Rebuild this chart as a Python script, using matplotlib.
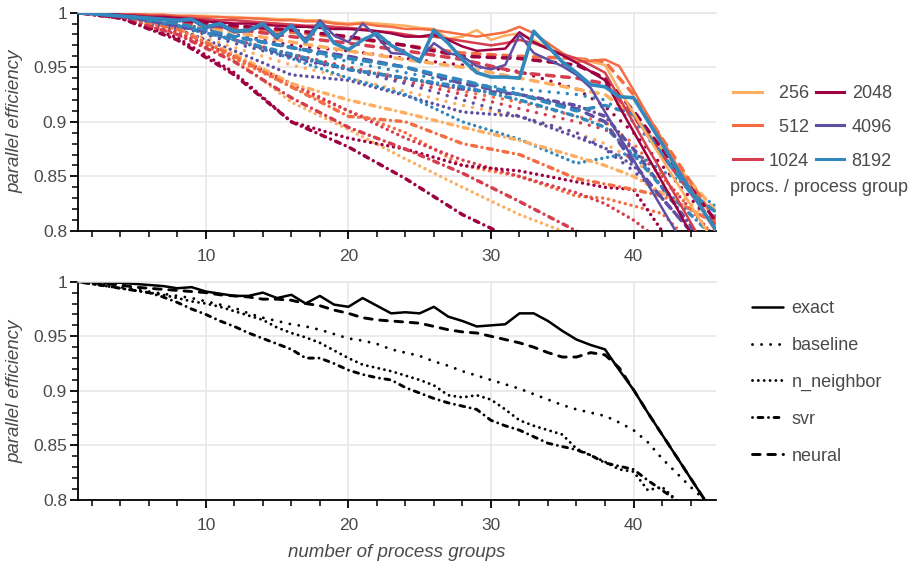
import numpy as np
import matplotlib
matplotlib.use('Agg')
import matplotlib.pyplot as plt
from matplotlib.lines import Line2D
from matplotlib.ticker import MultipleLocator, FuncFormatter

plt.rcParams['font.family'] = ['Liberation Sans', 'DejaVu Sans']
plt.rcParams['lines.scale_dashes'] = False

# ---- data -----------------------------------------------------------
groups = list(range(1, 47))                       # every process group count
coarse = [1, 4, 8, 12, 16, 20, 24, 28, 32, 36, 38, 40, 42, 44, 46]

sizes = ['256', '512', '1024', '2048', '4096', '8192']
size_colors = ['#fdae61', '#f46d43', '#d53e4f', '#9e0142', '#5e4fa2', '#3288bd']

# top panel: exact (measured) efficiency per group size, x = groups
top_exact = {
    '256': [1.0, 1.0, 0.999, 0.999, 0.999, 0.998, 0.998, 0.997, 0.997, 0.997, 0.996, 0.996, 0.995, 0.995,
            0.994, 0.994, 0.993, 0.993, 0.991, 0.990, 0.991, 0.990, 0.989, 0.988, 0.986, 0.985, 0.976, 0.978,
            0.984, 0.975, 0.979, 0.981, 0.975, 0.967, 0.962, 0.958, 0.955, 0.952, 0.929, 0.908, 0.887, 0.866,
            0.845, 0.824, 0.803, 0.782],
    '512': [1.0, 1.0, 0.999, 0.999, 0.999, 0.998, 0.998, 0.997, 0.997, 0.996, 0.996, 0.995, 0.995, 0.994,
            0.993, 0.993, 0.992, 0.992, 0.990, 0.989, 0.990, 0.988, 0.987, 0.985, 0.985, 0.984, 0.982, 0.980,
            0.978, 0.980, 0.982, 0.987, 0.981, 0.972, 0.963, 0.955, 0.956, 0.957, 0.951, 0.929, 0.906, 0.884,
            0.861, 0.839, 0.816, 0.794],
    '1024': [1.0, 0.999, 0.999, 0.998, 0.998, 0.997, 0.997, 0.996, 0.995, 0.994, 0.993, 0.993, 0.992, 0.991,
             0.990, 0.989, 0.988, 0.988, 0.987, 0.986, 0.985, 0.983, 0.982, 0.980, 0.978, 0.978, 0.976, 0.974,
             0.972, 0.970, 0.972, 0.975, 0.972, 0.967, 0.962, 0.958, 0.952, 0.945, 0.922, 0.899, 0.876, 0.854,
             0.831, 0.808, 0.785, 0.762],
    '2048': [1.0, 0.999, 0.999, 0.998, 0.997, 0.996, 0.996, 0.995, 0.994, 0.992, 0.991, 0.990, 0.990, 0.989,
             0.988, 0.987, 0.987, 0.986, 0.985, 0.985, 0.984, 0.983, 0.981, 0.978, 0.978, 0.980, 0.975, 0.969,
             0.965, 0.966, 0.967, 0.982, 0.973, 0.967, 0.961, 0.954, 0.946, 0.938, 0.914, 0.891, 0.868, 0.845,
             0.822, 0.798, 0.775, 0.752],
    '4096': [1.0, 0.999, 0.998, 0.997, 0.996, 0.995, 0.994, 0.992, 0.993, 0.986, 0.988, 0.982, 0.983, 0.988,
             0.976, 0.989, 0.975, 0.993, 0.979, 0.973, 0.990, 0.978, 0.963, 0.962, 0.957, 0.972, 0.963, 0.960,
             0.951, 0.948, 0.952, 0.980, 0.963, 0.957, 0.951, 0.943, 0.931, 0.909, 0.887, 0.865, 0.843, 0.821,
             0.799, 0.777, 0.755, 0.733],
    '8192': [1.0, 0.999, 0.998, 0.997, 0.996, 0.995, 0.994, 0.993, 0.994, 0.987, 0.990, 0.983, 0.984, 0.990,
             0.978, 0.988, 0.973, 0.990, 0.972, 0.966, 0.975, 0.981, 0.970, 0.963, 0.955, 0.984, 0.972, 0.957,
             0.945, 0.941, 0.941, 0.940, 0.983, 0.969, 0.955, 0.945, 0.934, 0.932, 0.923, 0.922, 0.901, 0.880,
             0.858, 0.837, 0.816, 0.797],
}

# top panel: predictions per group size, x = coarse
top_neural = {
    '256': [1.0, 0.997, 0.990, 0.982, 0.973, 0.965, 0.957, 0.950, 0.940, 0.930, 0.925, 0.905, 0.875, 0.845, 0.815],
    '512': [1.0, 0.998, 0.993, 0.987, 0.982, 0.977, 0.970, 0.963, 0.960, 0.958, 0.955, 0.925, 0.885, 0.845, 0.805],
    '1024': [1.0, 0.998, 0.992, 0.985, 0.978, 0.972, 0.965, 0.957, 0.945, 0.940, 0.935, 0.905, 0.870, 0.835, 0.800],
    '2048': [1.0, 0.998, 0.993, 0.988, 0.984, 0.978, 0.970, 0.960, 0.958, 0.952, 0.940, 0.910, 0.875, 0.840, 0.805],
    '4096': [1.0, 0.997, 0.988, 0.978, 0.968, 0.960, 0.950, 0.935, 0.925, 0.912, 0.900, 0.862, 0.830, 0.800, 0.770],
    '8192': [1.0, 0.998, 0.990, 0.978, 0.968, 0.958, 0.950, 0.938, 0.925, 0.910, 0.915, 0.907, 0.870, 0.835, 0.815],
}
top_baseline = {
    '256': [1.0, 0.996, 0.985, 0.968, 0.952, 0.940, 0.928, 0.915, 0.905, 0.890, 0.880, 0.865, 0.845, 0.825, 0.805],
    '512': [1.0, 0.997, 0.988, 0.975, 0.962, 0.950, 0.940, 0.928, 0.918, 0.905, 0.900, 0.880, 0.850, 0.820, 0.790],
    '1024': [1.0, 0.996, 0.987, 0.975, 0.962, 0.950, 0.937, 0.925, 0.912, 0.900, 0.893, 0.875, 0.850, 0.820, 0.790],
    '2048': [1.0, 0.998, 0.990, 0.980, 0.970, 0.965, 0.958, 0.952, 0.946, 0.930, 0.914, 0.890, 0.860, 0.830, 0.800],
    '4096': [1.0, 0.997, 0.988, 0.972, 0.958, 0.948, 0.935, 0.920, 0.905, 0.890, 0.875, 0.855, 0.830, 0.800, 0.775],
    '8192': [1.0, 0.998, 0.990, 0.980, 0.968, 0.955, 0.945, 0.935, 0.930, 0.925, 0.920, 0.900, 0.870, 0.840, 0.810],
}
top_nneighbor = {
    '256': [1.0, 0.995, 0.983, 0.958, 0.918, 0.893, 0.866, 0.840, 0.815, 0.795, 0.785, 0.775, 0.765, 0.755, 0.745],
    '512': [1.0, 0.995, 0.980, 0.958, 0.932, 0.910, 0.890, 0.860, 0.850, 0.832, 0.830, 0.823, 0.816, 0.790, 0.770],
    '1024': [1.0, 0.995, 0.982, 0.960, 0.935, 0.910, 0.885, 0.865, 0.850, 0.835, 0.825, 0.810, 0.790, 0.770, 0.750],
    '2048': [1.0, 0.995, 0.977, 0.945, 0.900, 0.885, 0.875, 0.860, 0.855, 0.845, 0.840, 0.838, 0.800, 0.770, 0.740],
    '4096': [1.0, 0.996, 0.985, 0.965, 0.943, 0.938, 0.924, 0.909, 0.905, 0.886, 0.876, 0.860, 0.830, 0.800, 0.770],
    '8192': [1.0, 0.997, 0.988, 0.975, 0.958, 0.940, 0.925, 0.900, 0.884, 0.862, 0.867, 0.872, 0.855, 0.840, 0.820],
}
top_svr = {
    '256': [1.0, 0.996, 0.985, 0.962, 0.935, 0.920, 0.908, 0.895, 0.883, 0.868, 0.860, 0.850, 0.835, 0.820, 0.805],
    '512': [1.0, 0.996, 0.985, 0.960, 0.932, 0.905, 0.900, 0.880, 0.870, 0.848, 0.843, 0.838, 0.832, 0.820, 0.805],
    '1024': [1.0, 0.995, 0.980, 0.955, 0.922, 0.895, 0.875, 0.853, 0.827, 0.800, 0.790, 0.780, 0.770, 0.760, 0.750],
    '2048': [1.0, 0.995, 0.975, 0.943, 0.900, 0.877, 0.848, 0.815, 0.790, 0.770, 0.760, 0.750, 0.740, 0.730, 0.720],
    '4096': [1.0, 0.997, 0.988, 0.975, 0.960, 0.948, 0.940, 0.930, 0.925, 0.915, 0.905, 0.875, 0.840, 0.805, 0.770],
    '8192': [1.0, 0.997, 0.988, 0.975, 0.962, 0.948, 0.940, 0.932, 0.920, 0.905, 0.895, 0.870, 0.840, 0.815, 0.790],
}

# bottom panel: averaged over group sizes, x = groups
avg_exact = [1.0, 1.0, 0.999, 0.999, 0.998, 0.997, 0.996, 0.994, 0.995, 0.991, 0.989, 0.987, 0.987, 0.990,
             0.985, 0.988, 0.980, 0.987, 0.979, 0.977, 0.985, 0.978, 0.971, 0.972, 0.971, 0.977, 0.968, 0.964,
             0.959, 0.960, 0.961, 0.971, 0.971, 0.964, 0.955, 0.947, 0.942, 0.938, 0.919, 0.901, 0.880, 0.860,
             0.840, 0.820, 0.800, 0.780]
avg_baseline = [1.0, 0.998, 0.997, 0.995, 0.993, 0.991, 0.989, 0.987, 0.985, 0.982, 0.979, 0.976, 0.971, 0.967,
                0.964, 0.961, 0.959, 0.956, 0.952, 0.948, 0.946, 0.943, 0.938, 0.935, 0.932, 0.927, 0.923, 0.918,
                0.914, 0.910, 0.906, 0.902, 0.897, 0.892, 0.887, 0.883, 0.880, 0.877, 0.871, 0.864, 0.853, 0.838,
                0.825, 0.812, 0.800, 0.788]
avg_nneighbor = [1.0, 0.998, 0.996, 0.994, 0.992, 0.990, 0.988, 0.985, 0.982, 0.980, 0.977, 0.973, 0.969, 0.965,
                 0.958, 0.953, 0.949, 0.944, 0.937, 0.930, 0.924, 0.921, 0.918, 0.914, 0.910, 0.905, 0.896, 0.894,
                 0.896, 0.892, 0.883, 0.873, 0.868, 0.864, 0.860, 0.847, 0.841, 0.835, 0.828, 0.826, 0.809, 0.812,
                 0.800, 0.790, 0.780, 0.770]
avg_svr = [1.0, 0.998, 0.996, 0.994, 0.992, 0.990, 0.986, 0.981, 0.975, 0.970, 0.964, 0.959, 0.953, 0.948,
           0.943, 0.938, 0.930, 0.930, 0.925, 0.919, 0.915, 0.912, 0.910, 0.903, 0.898, 0.893, 0.889, 0.886,
           0.883, 0.873, 0.868, 0.864, 0.858, 0.852, 0.849, 0.846, 0.841, 0.834, 0.831, 0.828, 0.818, 0.809,
           0.800, 0.790, 0.780, 0.770]
avg_neural = [1.0, 0.999, 0.998, 0.997, 0.995, 0.994, 0.993, 0.992, 0.991, 0.990, 0.988, 0.987, 0.986, 0.984,
              0.984, 0.983, 0.980, 0.978, 0.974, 0.971, 0.967, 0.965, 0.964, 0.963, 0.962, 0.959, 0.956, 0.954,
              0.953, 0.950, 0.947, 0.944, 0.940, 0.935, 0.931, 0.931, 0.935, 0.933, 0.921, 0.901, 0.880, 0.860,
              0.840, 0.820, 0.800, 0.780]

# ---- styles ---------------------------------------------------------
styles = {
    'exact': dict(linestyle='-', solid_capstyle='round'),
    'baseline': dict(dashes=(0.01, 6.5), dash_capstyle='round'),
    'n_neighbor': dict(dashes=(0.01, 4.2), dash_capstyle='round'),
    'svr': dict(dashes=(0.01, 4.0, 3.5, 4.0), dash_capstyle='round'),
    'neural': dict(dashes=(5.5, 5.5), dash_capstyle='round'),
}
grey = '#4a4a4a'

fig = plt.figure(figsize=(9.19, 5.63), dpi=100)
L, W = 77.5 / 919, 638 / 919
ax1 = fig.add_axes([L, 1 - 231 / 563, W, 218.4 / 563])
ax2 = fig.add_axes([L, 1 - 500 / 563, W, 218.3 / 563])

for ax in (ax1, ax2):
    ax.set_xlim(1, 45.75)
    ax.set_ylim(0.8, 1.0)
    ax.xaxis.set_major_locator(MultipleLocator(10))
    ax.xaxis.set_minor_locator(MultipleLocator(2))
    ax.yaxis.set_major_locator(MultipleLocator(0.05))
    ax.yaxis.set_minor_locator(MultipleLocator(0.01))
    ax.yaxis.set_major_formatter(FuncFormatter(lambda v, p: '{:g}'.format(round(v, 2))))
    ax.grid(True, which='major', color='#e6e6e6', linewidth=1.1)
    ax.set_axisbelow(True)
    ax.spines['right'].set_visible(False)
    ax.spines['top'].set_color('#e6e6e6')
    ax.spines['top'].set_linewidth(1.1)
    for s in ('left', 'bottom'):
        ax.spines[s].set_linewidth(1.3)
    ax.tick_params(which='major', direction='out', length=6, width=1.3, labelsize=12.5,
                   labelcolor=grey)
    ax.tick_params(axis='x', which='major', pad=7)
    ax.tick_params(axis='y', which='major', pad=1.5)
    ax.tick_params(which='minor', direction='out', length=4, width=1.1)
    ax.set_ylabel('parallel efficiency', fontsize=13.5, style='italic', color=grey, labelpad=7)

# top panel
for method, table in [('baseline', top_baseline), ('n_neighbor', top_nneighbor),
                      ('svr', top_svr), ('neural', top_neural)]:
    for size, col in zip(sizes, size_colors):
        ax1.plot(coarse, table[size], color=col, linewidth=2.5, zorder=2, **styles[method])
for size, col in zip(sizes, size_colors):
    lw = 2.6 if size == '8192' else 1.8
    ax1.plot(groups, top_exact[size], color=col, linewidth=lw, zorder=3, **styles['exact'])

# bottom panel
for name, vals in [('exact', avg_exact), ('baseline', avg_baseline), ('n_neighbor', avg_nneighbor),
                   ('svr', avg_svr), ('neural', avg_neural)]:
    lw = 1.8 if name == 'exact' else 2.1
    ax2.plot(groups, vals, color='black', linewidth=lw, label=name, **styles[name])

ax2.set_xlabel('number of process groups', fontsize=13.5, style='italic', color=grey, labelpad=8)

# legends
labels_top = ['\u2007256', '\u2007512', '1024', '2048', '4096', '8192']
handles_top = [Line2D([], [], color=c, linewidth=2.2) for c in size_colors]
fig.legend(handles_top, labels_top, loc='upper left', bbox_to_anchor=(733 / 919, 1 - 85 / 563),
           ncol=2, frameon=False, fontsize=13, handlelength=1.6, handletextpad=0.4,
           columnspacing=0.35, labelspacing=0.93, borderpad=0, borderaxespad=0, labelcolor=grey)
fig.text(730 / 919, 1 - 188 / 563, 'procs. / process group', fontsize=13, color=grey,
         ha='left', va='center')

h2, l2 = ax2.get_legend_handles_labels()
fig.legend(h2, l2, loc='upper left', bbox_to_anchor=(752 / 919, 1 - 300 / 563),
           ncol=1, frameon=False, fontsize=13, handlelength=1.7, handletextpad=0.5,
           labelspacing=1.1, borderpad=0, borderaxespad=0, labelcolor=grey)

fig.savefig('out.png', dpi=100)
